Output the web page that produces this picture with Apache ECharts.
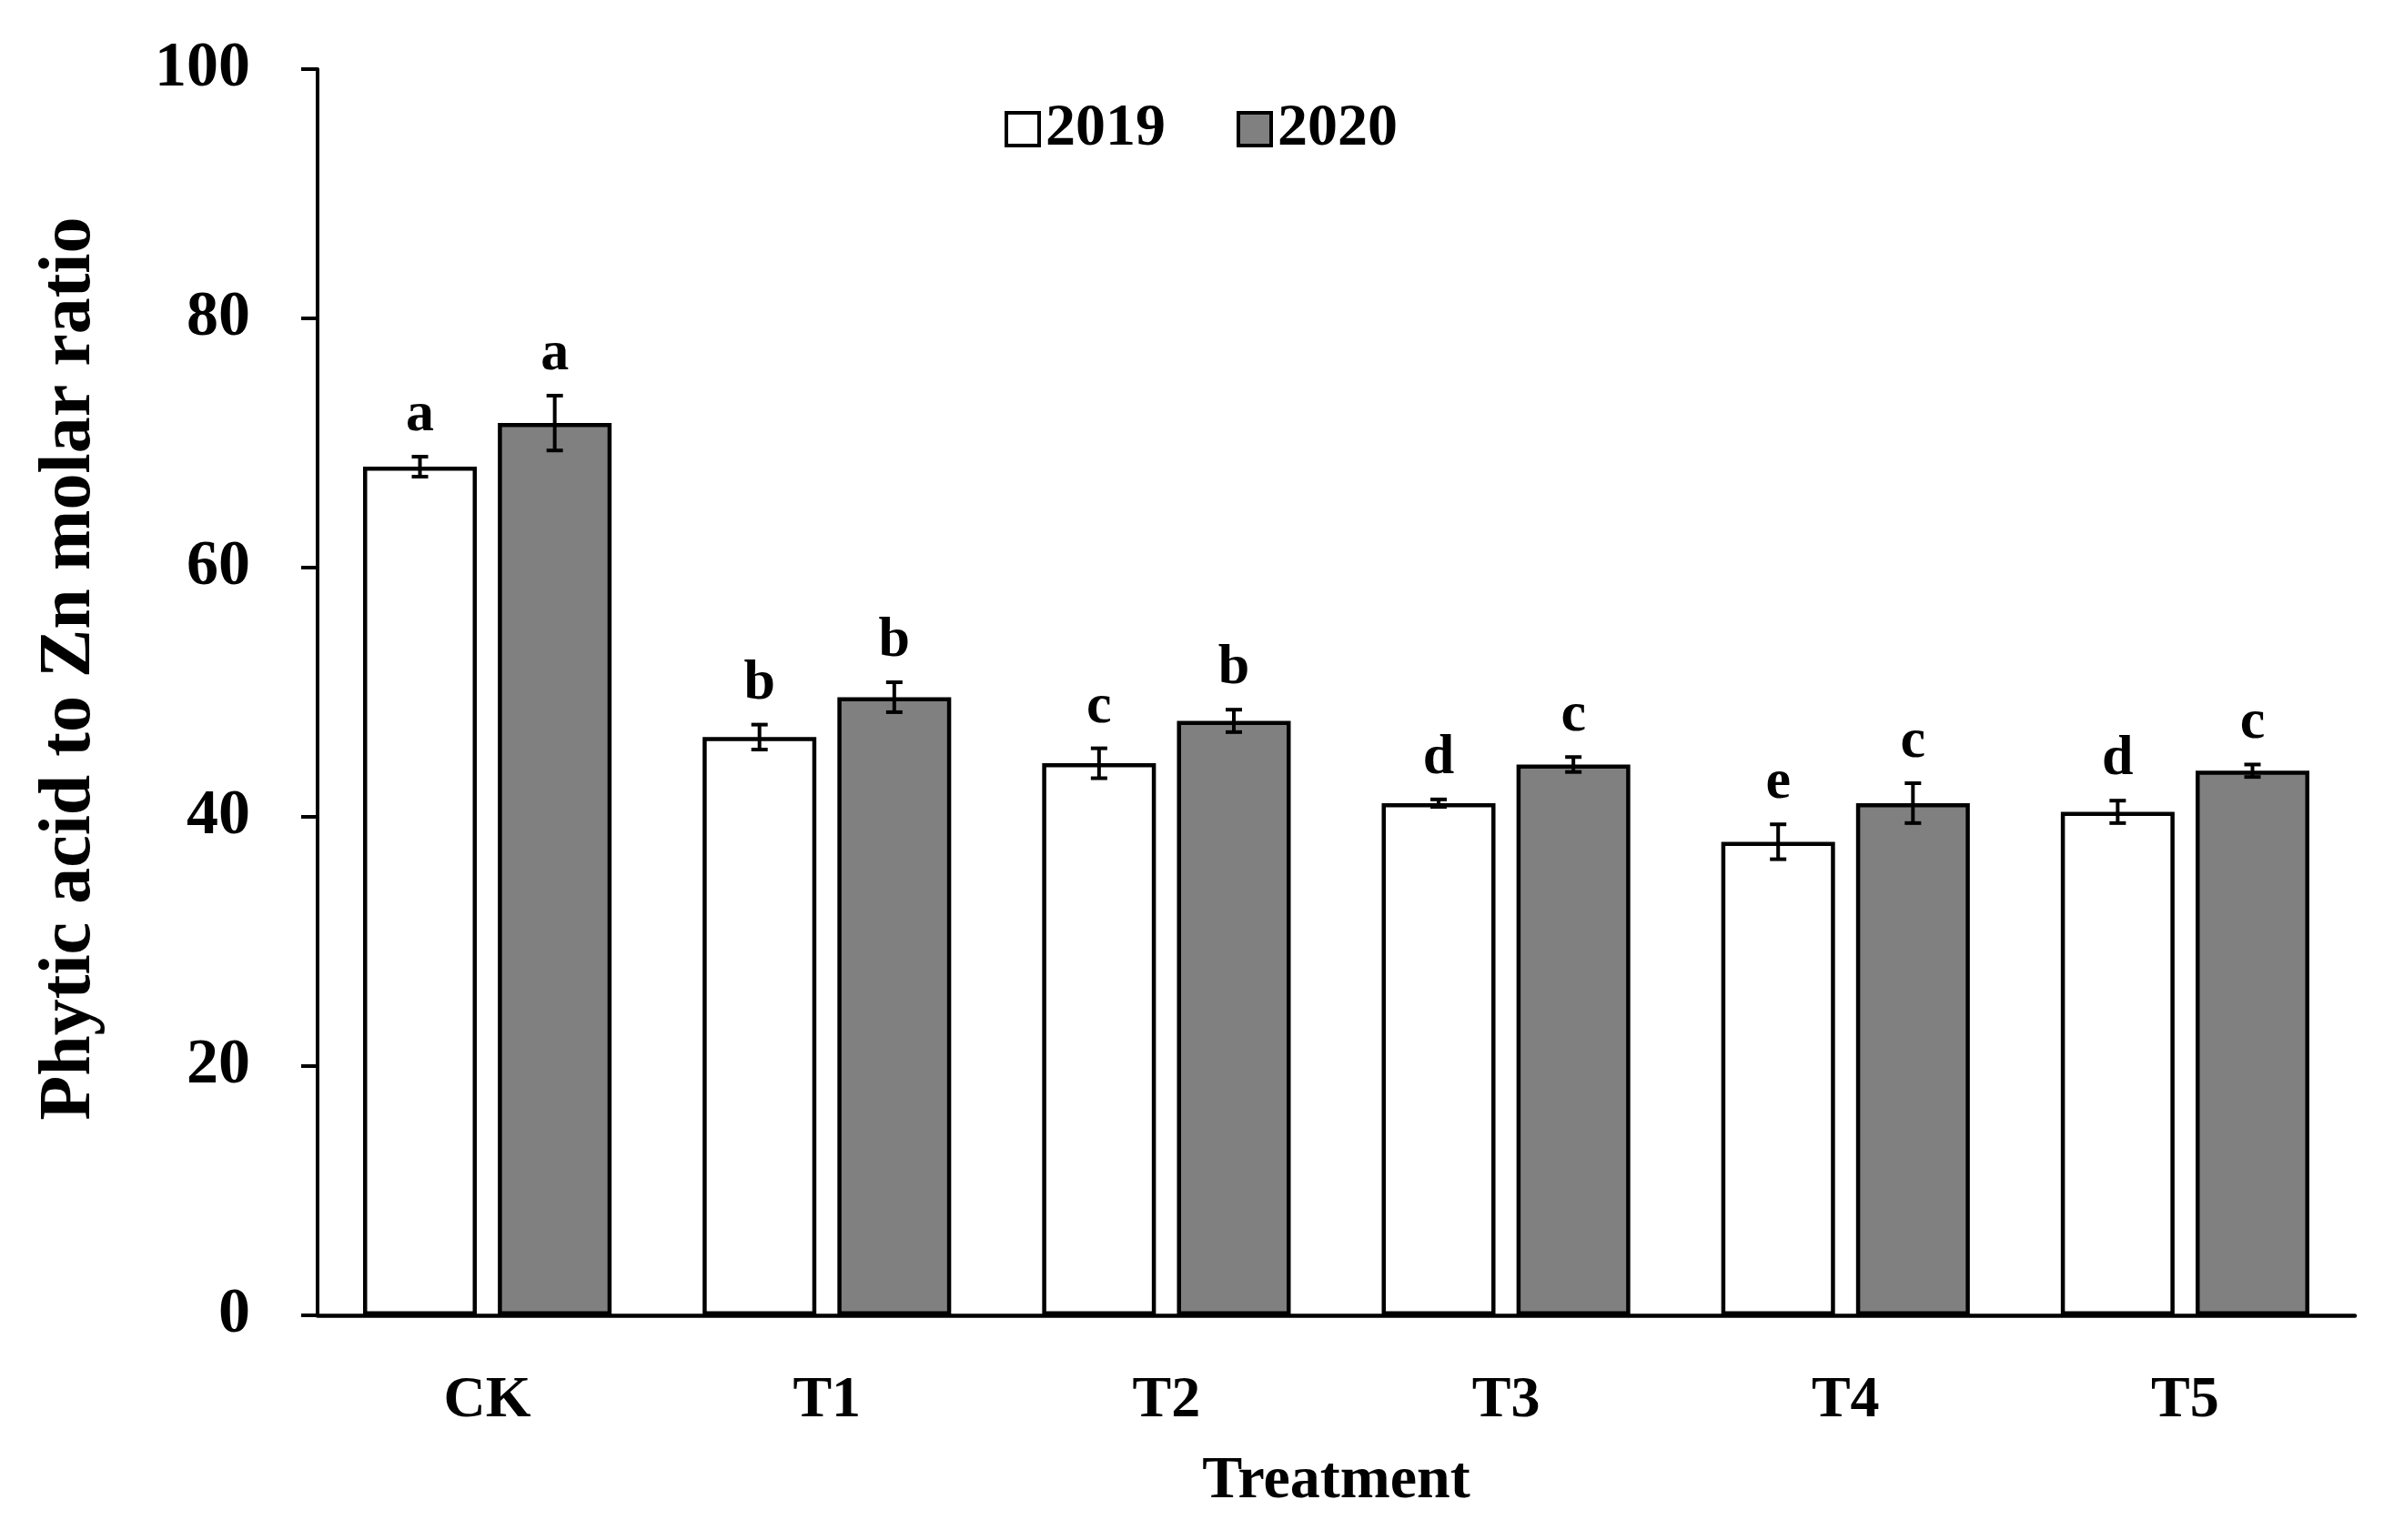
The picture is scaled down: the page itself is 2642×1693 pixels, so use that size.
<!DOCTYPE html>
<html>
<head>
<meta charset="utf-8">
<script src="https://cdn.jsdelivr.net/npm/echarts@6/dist/echarts.min.js"></script>
<style>
html,body{margin:0;padding:0;background:#fff;}
#chart{width:2642px;height:1693px;}
</style>
</head>
<body>
<div id="chart"></div>
<script>
const categories = ['CK', 'T1', 'T2', 'T3', 'T4', 'T5'];
const values2019 = [68.1, 46.4, 44.3, 41.1, 38.0, 40.4];
const values2020 = [71.6, 49.6, 47.7, 44.2, 41.1, 43.7];
const err2019 = [0.8, 1.0, 1.2, 0.3, 1.4, 0.9];
const err2020 = [2.2, 1.2, 0.9, 0.6, 1.6, 0.5];
const letters2019 = ['a', 'b', 'c', 'd', 'e', 'd'];
const letters2020 = ['a', 'b', 'b', 'c', 'c', 'c'];
const yTicks = [0, 20, 40, 60, 80, 100];
const yTitle = 'Phytic acid to Zn molar ratio';
const xTitle = 'Treatment';

const FONT = '"Liberation Serif", "Times New Roman", serif';
const BAR_W = 0.335;
const BAR_GAP = 0.185;

function errData(vals, errs) {
  return vals.map((v, i) => [i, v, errs[i]]);
}

function makeRender(sign, lets) {
  return function (params, api) {
    const xi = api.value(0), y = api.value(1), e = api.value(2);
    const letter = lets[params.dataIndex];
    const c = api.coord([xi, y]);
    const band = api.size([1, 0])[0];
    const bw = band * BAR_W;
    const off = (bw + bw * BAR_GAP) / 2 * sign;
    const cx = c[0] + off;
    const top = api.coord([xi, y + e])[1];
    const bot = api.coord([xi, y - e])[1];
    const hw = 9;
    const ls = { stroke: '#000', lineWidth: 4 };
    return {
      type: 'group',
      children: [
        { type: 'line', shape: { x1: cx, y1: top, x2: cx, y2: bot }, style: ls },
        { type: 'line', shape: { x1: cx - hw, y1: top, x2: cx + hw, y2: top }, style: ls },
        { type: 'line', shape: { x1: cx - hw, y1: bot, x2: cx + hw, y2: bot }, style: ls },
        { type: 'text', style: { text: letter, x: cx, y: top - 14, align: 'center', verticalAlign: 'bottom',
            fontSize: 62, fontWeight: 'bold', fontFamily: FONT, fill: '#000' } }
      ]
    };
  };
}

const chart = echarts.init(document.getElementById('chart'));
chart.setOption({
  animation: false,
  backgroundColor: '#fff',
  grid: { left: 349, right: 54, top: 76, bottom: 247, containLabel: false },
  legend: {
    top: 104,
    left: 1099,
    itemWidth: 36,
    itemHeight: 36,
    itemGap: 78,
    textStyle: { fontSize: 66, fontWeight: 'bold', fontFamily: FONT, color: '#000', padding: [0, 0, 0, 2] },
    data: [
      { name: '2019', icon: 'rect', itemStyle: { color: '#fff', borderColor: '#000', borderWidth: 4 } },
      { name: '2020', icon: 'rect', itemStyle: { color: '#808080', borderColor: '#000', borderWidth: 4 } }
    ]
  },
  graphic: [
    {
      type: 'text', x: 77, y: 735, rotation: Math.PI / 2,
      style: { text: yTitle, align: 'center', verticalAlign: 'middle',
        fontSize: 80, fontWeight: 'bold', fontFamily: FONT, fill: '#000' }
    }
  ],
  xAxis: {
    type: 'category',
    data: categories,
    name: xTitle,
    nameLocation: 'middle',
    nameGap: 150,
    nameTextStyle: { fontSize: 66, fontWeight: 'bold', fontFamily: FONT, color: '#000', verticalAlign: 'top' },
    axisLine: { lineStyle: { color: '#000', width: 4.5 } },
    axisTick: { show: false },
    axisLabel: { fontSize: 64, fontWeight: 'bold', fontFamily: FONT, color: '#000', margin: 62 },
    splitLine: { show: false }
  },
  yAxis: {
    type: 'value',
    min: 0,
    max: 100,
    interval: 20,
    axisLine: { show: true, lineStyle: { color: '#000', width: 4 } },
    axisTick: { show: true, inside: false, length: 18, lineStyle: { color: '#000', width: 4 } },
    axisLabel: { fontSize: 70, fontWeight: 'bold', fontFamily: FONT, color: '#000', margin: 74,
      formatter: v => (yTicks.indexOf(v) >= 0 ? String(v) : '') },
    splitLine: { show: false }
  },
  series: [
    {
      name: '2019', type: 'bar', data: values2019,
      barWidth: (BAR_W * 100) + '%', barGap: (BAR_GAP * 100) + '%',
      itemStyle: { color: '#fff', borderColor: '#000', borderWidth: 4.5 }
    },
    {
      name: '2020', type: 'bar', data: values2020,
      barWidth: (BAR_W * 100) + '%', barGap: (BAR_GAP * 100) + '%',
      itemStyle: { color: '#808080', borderColor: '#000', borderWidth: 4.5 }
    },
    {
      type: 'custom', name: 'err2019', renderItem: makeRender(-1, letters2019),
      data: errData(values2019, err2019), z: 10,
      encode: { x: 0, y: 1 }
    },
    {
      type: 'custom', name: 'err2020', renderItem: makeRender(1, letters2020),
      data: errData(values2020, err2020), z: 10,
      encode: { x: 0, y: 1 }
    }
  ]
});
</script>
</body>
</html>
